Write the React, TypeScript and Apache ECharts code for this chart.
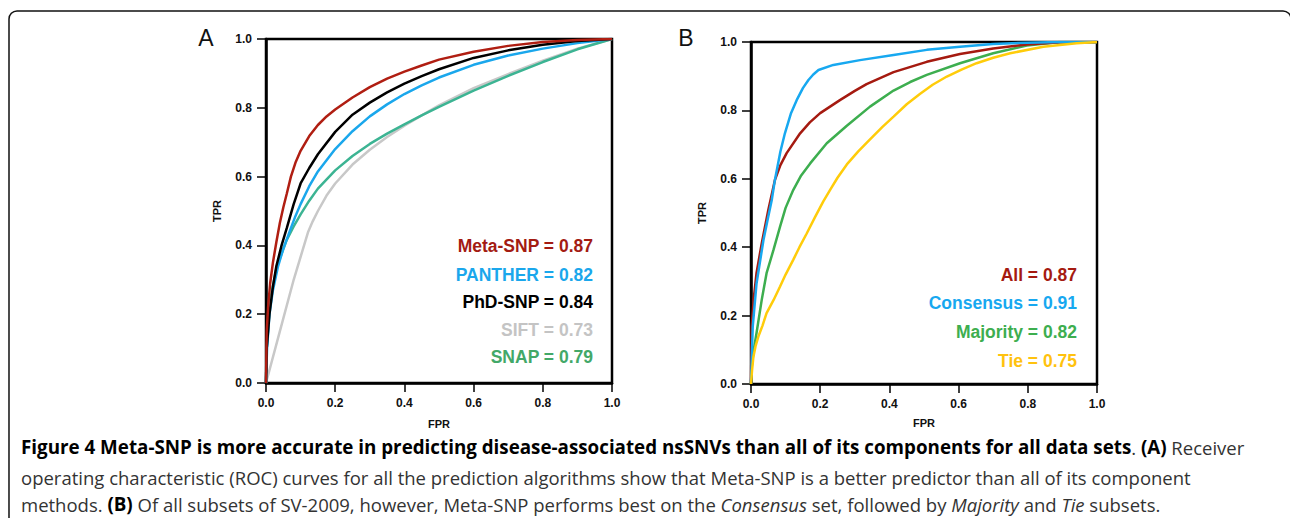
import React, { useEffect, useRef } from "react";
import * as echarts from "echarts";

// ---- Panel A data: [FPR, TPR] ----
const metaSnp: number[][] = [
  [0, 0], [0.002, 0.15], [0.006, 0.22], [0.012, 0.29], [0.02, 0.35], [0.03, 0.41], [0.04, 0.465],
  [0.05, 0.51], [0.06, 0.55], [0.072, 0.6], [0.085, 0.64], [0.1, 0.675], [0.125, 0.718], [0.15, 0.75],
  [0.175, 0.775], [0.2, 0.795], [0.25, 0.83], [0.3, 0.86], [0.35, 0.885], [0.4, 0.905], [0.45, 0.923],
  [0.5, 0.94], [0.6, 0.963], [0.7, 0.98], [0.8, 0.991], [0.9, 0.997], [1, 1],
];
const panther: number[][] = [
  [0, 0], [0.003, 0.1], [0.01, 0.2], [0.02, 0.27], [0.035, 0.34], [0.05, 0.39], [0.07, 0.445],
  [0.085, 0.485], [0.1, 0.52], [0.125, 0.572], [0.15, 0.615], [0.2, 0.68], [0.25, 0.732], [0.3, 0.775],
  [0.35, 0.81], [0.4, 0.84], [0.45, 0.865], [0.5, 0.888], [0.6, 0.925], [0.7, 0.952], [0.8, 0.972],
  [0.9, 0.988], [1, 1],
];
const phdSnp: number[][] = [
  [0, 0], [0.002, 0.1], [0.01, 0.2], [0.02, 0.28], [0.03, 0.34], [0.045, 0.4], [0.06, 0.45],
  [0.08, 0.52], [0.1, 0.58], [0.125, 0.625], [0.15, 0.665], [0.2, 0.73], [0.25, 0.78], [0.3, 0.815],
  [0.35, 0.845], [0.4, 0.87], [0.45, 0.892], [0.5, 0.912], [0.6, 0.945], [0.7, 0.967], [0.8, 0.983],
  [0.9, 0.994], [1, 1],
];
const sift: number[][] = [
  [0, 0], [0.04, 0.15], [0.08, 0.3], [0.122, 0.44], [0.135, 0.47], [0.15, 0.5], [0.175, 0.545],
  [0.2, 0.58], [0.25, 0.635], [0.3, 0.678], [0.35, 0.715], [0.4, 0.748], [0.45, 0.778], [0.5, 0.807],
  [0.6, 0.857], [0.7, 0.898], [0.8, 0.937], [0.9, 0.972], [1, 1],
];
const snap: number[][] = [
  [0, 0], [0.002, 0.1], [0.012, 0.24], [0.031, 0.338], [0.06, 0.416], [0.08, 0.455], [0.1, 0.49],
  [0.125, 0.53], [0.15, 0.565], [0.2, 0.618], [0.25, 0.66], [0.3, 0.695], [0.35, 0.725], [0.4, 0.752],
  [0.45, 0.778], [0.5, 0.803], [0.6, 0.85], [0.7, 0.893], [0.8, 0.933], [0.9, 0.97], [1, 1],
];

// ---- Panel B data: [FPR, TPR] ----
const allSet: number[][] = [
  [0, 0], [0.002, 0.17], [0.008, 0.25], [0.016, 0.325], [0.031, 0.411], [0.05, 0.509], [0.069, 0.596],
  [0.085, 0.64], [0.103, 0.675], [0.142, 0.733], [0.17, 0.765], [0.2, 0.792], [0.257, 0.83],
  [0.3, 0.857], [0.334, 0.877], [0.412, 0.912], [0.508, 0.942], [0.604, 0.965], [0.7, 0.981],
  [0.797, 0.993], [0.893, 0.999], [1, 1],
];
const consensus: number[][] = [
  [0, 0], [0.005, 0.168], [0.016, 0.294], [0.036, 0.421], [0.048, 0.48], [0.06, 0.538], [0.069, 0.596],
  [0.085, 0.68], [0.098, 0.733], [0.115, 0.79], [0.132, 0.83], [0.15, 0.865], [0.166, 0.889],
  [0.18, 0.905], [0.195, 0.918], [0.238, 0.933], [0.315, 0.947], [0.412, 0.962], [0.508, 0.977],
  [0.604, 0.986], [0.7, 0.994], [0.797, 0.998], [0.893, 1], [1, 1],
];
const majority: number[][] = [
  [0, 0], [0.002, 0.05], [0.008, 0.1], [0.016, 0.149], [0.031, 0.246], [0.045, 0.324], [0.065, 0.392],
  [0.084, 0.46], [0.1, 0.515], [0.122, 0.567], [0.145, 0.61], [0.171, 0.645], [0.219, 0.704],
  [0.277, 0.755], [0.344, 0.811], [0.412, 0.858], [0.46, 0.883], [0.508, 0.904], [0.604, 0.938],
  [0.7, 0.967], [0.797, 0.99], [0.893, 1], [1, 1],
];
const tie: number[][] = [
  [0, 0], [0.003, 0.04], [0.007, 0.08], [0.013, 0.11], [0.021, 0.138], [0.033, 0.17], [0.045, 0.207],
  [0.065, 0.245], [0.084, 0.285], [0.1, 0.32], [0.122, 0.363], [0.14, 0.4], [0.161, 0.44],
  [0.185, 0.488], [0.209, 0.534], [0.23, 0.57], [0.25, 0.603], [0.277, 0.642], [0.31, 0.68],
  [0.344, 0.715], [0.38, 0.752], [0.412, 0.782], [0.45, 0.818], [0.488, 0.848], [0.525, 0.875],
  [0.566, 0.899], [0.61, 0.92], [0.652, 0.938], [0.7, 0.954], [0.749, 0.967], [0.845, 0.986],
  [0.941, 0.996], [1, 1],
];

const legendA = ["Meta-SNP = 0.87", "PANTHER = 0.82", "PhD-SNP = 0.84", "SIFT = 0.73", "SNAP = 0.79"];
const legendB = ["All = 0.87", "Consensus = 0.91", "Majority = 0.82", "Tie = 0.75"];

const FONT = '"Liberation Sans", Arial, Helvetica, sans-serif';
const CAP_FONT = '"Open Sans", "Noto Sans", sans-serif';

function xAxis(gridIndex: number, gap: number) {
  return {
    type: "value", gridIndex, min: 0, max: 1, interval: 0.2,
    name: "FPR", nameLocation: "middle", nameGap: gap,
    nameTextStyle: { fontFamily: FONT, fontWeight: "bold", fontSize: 11, color: "#111" },
    axisLine: { show: true, lineStyle: { color: "#000", width: 2.5 } },
    axisTick: { show: true, length: 9, lineStyle: { color: "#000", width: 1.5 } },
    axisLabel: { margin: 14, fontFamily: FONT, fontWeight: "bold", fontSize: 12, color: "#111",
      formatter: (v: number) => v.toFixed(1) },
    splitLine: { show: false },
  };
}
function yAxis(gridIndex: number) {
  return {
    type: "value", gridIndex, min: 0, max: 1, interval: 0.2,
    name: "TPR", nameLocation: "middle", nameGap: 44, nameRotate: 90,
    nameTextStyle: { fontFamily: FONT, fontWeight: "bold", fontSize: 11, color: "#111" },
    axisLine: { show: true, lineStyle: { color: "#000", width: 2.5 } },
    axisTick: { show: true, length: 9, lineStyle: { color: "#000", width: 1.5 } },
    axisLabel: { margin: 14, fontFamily: FONT, fontWeight: "bold", fontSize: 12, color: "#111",
      formatter: (v: number) => v.toFixed(1) },
    splitLine: { show: false },
  };
}
function line(name: string, data: number[][], color: string, idx: number) {
  return {
    type: "line", name, data, xAxisIndex: idx, yAxisIndex: idx,
    showSymbol: false, symbol: "none", smooth: false,
    lineStyle: { color, width: 2.5 }, itemStyle: { color },
  };
}
function label(text: string, x: number, y: number, fill: string) {
  return {
    type: "text", x, y,
    style: { text, fill, fontFamily: FONT, fontWeight: "bold", fontSize: 17.5,
      align: "right", verticalAlign: "middle", textAlign: "right", textVerticalAlign: "middle" },
  };
}

export default function App() {
  const ref = useRef<HTMLDivElement>(null);
  useEffect(() => {
    if (!ref.current) return;
    const chart = echarts.init(ref.current, undefined, { renderer: "svg" });
    const colA = ["#A31B12", "#1AA7EC", "#000000", "#C4C4C4", "#43A868"];
    const colB = ["#A51A10", "#17A8F0", "#3DAE4F", "#FFC20E"];
    const ys = [246, 275, 302, 330, 357];
    const ysB = [275, 303, 332, 361];
    const capRich = {
      b: { fontFamily: CAP_FONT, fontWeight: "bold", fontSize: 18.8, lineHeight: 20, fill: "#000", color: "#000" },
      r: { fontFamily: CAP_FONT, fontWeight: "normal", fontSize: 18.5, lineHeight: 20, fill: "#333", color: "#333" },
      i: { fontFamily: CAP_FONT, fontWeight: "normal", fontStyle: "italic", fontSize: 18.5, lineHeight: 20, fill: "#333", color: "#333" },
    };
    const cap = (text: string, y: number) => ({
      type: "text", x: 21, y,
      style: { text, rich: capRich, fontFamily: CAP_FONT, fontSize: 18.5, lineHeight: 20, fill: "#333",
        verticalAlign: "middle", textVerticalAlign: "middle" },
    });
    chart.setOption({
      animation: false,
      backgroundColor: "#fff",
      grid: [
        { left: 266, top: 39, width: 346, height: 344, show: true, borderColor: "#000", borderWidth: 2.5, backgroundColor: "transparent" },
        { left: 751, top: 42, width: 346, height: 342, show: true, borderColor: "#000", borderWidth: 2.5, backgroundColor: "transparent" },
      ],
      xAxis: [xAxis(0, 35), xAxis(1, 33)],
      yAxis: [yAxis(0), yAxis(1)],
      series: [
        line("SIFT", sift, "#C8C8C8", 0),
        line("SNAP", snap, "#3CB493", 0),
        line("PANTHER", panther, "#1AA7EC", 0),
        line("PhD-SNP", phdSnp, "#000000", 0),
        line("Meta-SNP", metaSnp, "#B01E12", 0),
        line("Majority", majority, "#3DAE4F", 1),
        line("All", allSet, "#A51A10", 1),
        line("Consensus", consensus, "#17A8F0", 1),
        line("Tie", tie, "#FFCC0A", 1),
      ],
      graphic: [
        { type: "rect", shape: { x: 9, y: 11, width: 1282, height: 540, r: 8 },
          style: { fill: "none", stroke: "#111", lineWidth: 1.5 }, silent: true },
        { type: "text", x: 206, y: 38, style: { text: "A", fontFamily: FONT, fontSize: 23, fill: "#111",
          align: "center", verticalAlign: "middle", textAlign: "center", textVerticalAlign: "middle" } },
        { type: "text", x: 686, y: 38, style: { text: "B", fontFamily: FONT, fontSize: 23, fill: "#111",
          align: "center", verticalAlign: "middle", textAlign: "center", textVerticalAlign: "middle" } },
        ...legendA.map((t, i) => label(t, 593, ys[i], colA[i])),
        ...legendB.map((t, i) => label(t, 1077, ysB[i], colB[i])),
        cap("{b|Figure 4 Meta-SNP is more accurate in predicting disease-associated nsSNVs than all of its components for all data sets}{r|. }{b|(A)}{r| Receiver}", 447),
        cap("{r|operating characteristic (ROC) curves for all the prediction algorithms show that Meta-SNP is a better predictor than all of its component}", 477),
        cap("{r|methods. }{b|(B)}{r| Of all subsets of SV-2009, however, Meta-SNP performs best on the }{i|Consensus}{r| set, followed by }{i|Majority}{r| and }{i|Tie}{r| subsets.}", 504),
      ],
    });
    return () => chart.dispose();
  }, []);
  return <div ref={ref} style={{ position: "absolute", left: 0, top: 0, width: 1290, height: 518 }} />;
}
